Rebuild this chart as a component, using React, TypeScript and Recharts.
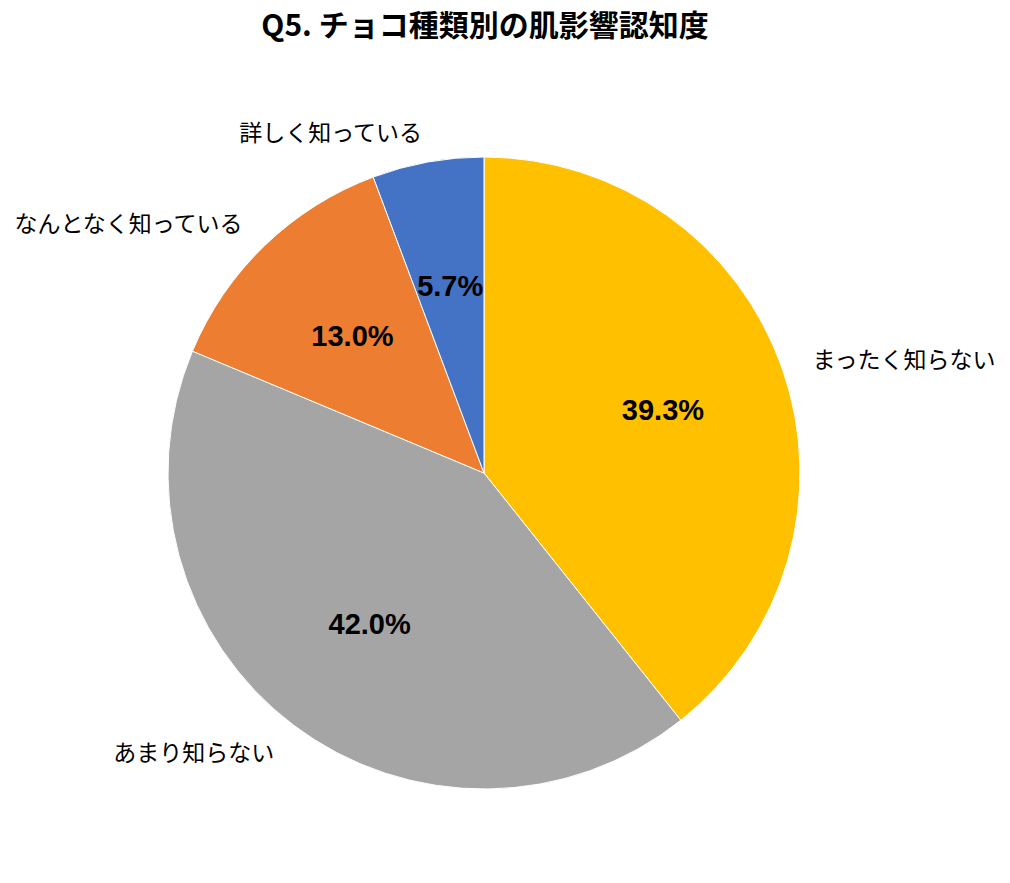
import React from "react";
import { PieChart, Pie, Cell } from "recharts";

const categories = ["まったく知らない", "あまり知らない", "なんとなく知っている", "詳しく知っている"];
const values = [39.3, 42.0, 13.0, 5.7];
const colors = ["#FFC000", "#A5A5A5", "#ED7D31", "#4472C4"];
const title = "Q5. チョコ種類別の肌影響認知度";

const data = categories.map((name, i) => ({ name, value: values[i] }));

const FONT = "'Noto Sans CJK JP', 'Noto Sans', sans-serif";
const NUM_FONT = "'Liberation Sans', Arial, sans-serif";
const RAD = Math.PI / 180;

const renderLabel = (props: any) => {
  const { cx, cy, midAngle, outerRadius, name, value } = props;
  const cos = Math.cos(-midAngle * RAD);
  const sin = Math.sin(-midAngle * RAD);
  const ri = outerRadius * 0.6;
  const ro = outerRadius + 32;
  const ix = cx + ri * cos;
  const iy = cy + ri * sin;
  const ox = cx + ro * cos;
  const oy = cy + ro * sin;
  return (
    <g>
      <text
        x={ix}
        y={iy}
        textAnchor="middle"
        dominantBaseline="central"
        fontFamily={NUM_FONT}
        fontWeight="bold"
        fontSize={29}
        fill="#000"
      >
        {value.toFixed(1)}%
      </text>
      <text
        x={ox}
        y={oy}
        textAnchor={cos >= 0 ? "start" : "end"}
        dominantBaseline="central"
        fontFamily={FONT}
        fontSize={23}
        fill="#000"
      >
        {name}
      </text>
    </g>
  );
};

export default function App() {
  return (
    <div style={{ position: "relative", width: 994, height: 867, background: "#fff" }}>
      <div
        style={{
          position: "absolute",
          top: -2,
          left: 0,
          width: 954,
          textAlign: "center",
          fontFamily: FONT,
          fontWeight: "bold",
          fontSize: 30,
          lineHeight: "34px",
          color: "#000",
        }}
      >
        {title}
      </div>
      <PieChart width={994} height={867}>
        <Pie
          data={data}
          dataKey="value"
          nameKey="name"
          cx={471}
          cy={460}
          outerRadius={316}
          startAngle={90}
          endAngle={-270}
          stroke="#ffffff"
          strokeWidth={1}
          label={renderLabel}
          labelLine={false}
          isAnimationActive={false}
        >
          {data.map((d, i) => (
            <Cell key={d.name} fill={colors[i]} />
          ))}
        </Pie>
      </PieChart>
    </div>
  );
}
